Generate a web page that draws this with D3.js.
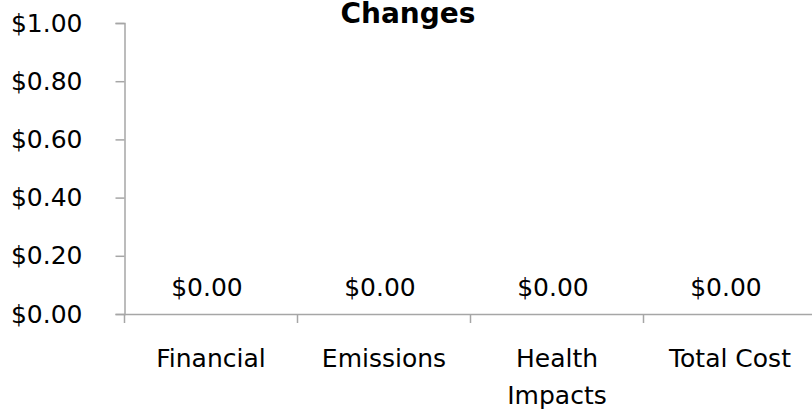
<!DOCTYPE html>
<html>
<head>
<meta charset="utf-8">
<script src="https://cdn.jsdelivr.net/npm/d3@7"></script>
<style>
  body { margin: 0; background: #fff; }
  svg { display: block; font-family: "DejaVu Sans", sans-serif; }
</style>
</head>
<body>
<div id="chart"></div>
<script>
// Chart data
const categories = ["Financial", "Emissions", "Health Impacts", "Total Cost"];
const values = [0, 0, 0, 0];
const yTicks = [0, 0.2, 0.4, 0.6, 0.8, 1.0];
const title = "Changes";

const width = 812, height = 413;
const margin = { top: 23, right: -4.5, bottom: 99, left: 124.5 };
const fontSize = 25;

const svg = d3.select("#chart").append("svg")
    .attr("width", width)
    .attr("height", height);

const x = d3.scaleBand()
    .domain(categories)
    .range([margin.left, width - margin.right])
    .paddingInner(0)
    .paddingOuter(0);

const y = d3.scaleLinear()
    .domain([0, 1])
    .range([height - margin.bottom, margin.top]);

const fmt = d => "$" + d.toFixed(2);
const axisColor = "#a6a6a6";

// Y axis
const yAxis = svg.append("g")
    .attr("transform", `translate(${margin.left},0)`)
    .call(d3.axisLeft(y).tickValues(yTicks).tickSize(9).tickPadding(33).tickFormat(fmt));
yAxis.select(".domain").attr("stroke", axisColor).attr("stroke-width", 1.5);
yAxis.selectAll(".tick line").attr("stroke", axisColor).attr("stroke-width", 1.5);
yAxis.selectAll(".tick text")
    .attr("font-size", fontSize)
    .attr("font-family", "DejaVu Sans, sans-serif")
    .attr("fill", "#000");

// X axis (ticks at category boundaries)
const xAxis = svg.append("g")
    .attr("transform", `translate(0,${y(0)})`)
    .call(d3.axisBottom(x).tickSize(0).tickFormat(""));
xAxis.select(".domain").attr("stroke", axisColor).attr("stroke-width", 1.5);

xAxis.selectAll("line.boundary")
    .data(categories)
    .enter().append("line")
    .attr("class", "boundary")
    .attr("x1", d => x(d))
    .attr("x2", d => x(d))
    .attr("y1", 0)
    .attr("y2", 9)
    .attr("stroke", axisColor)
    .attr("stroke-width", 1.5);

// Category labels (wrapped)
const catLabel = svg.append("g").selectAll("text")
    .data(categories)
    .enter().append("text")
    .attr("text-anchor", "middle")
    .attr("font-size", fontSize)
    .attr("fill", "#000")
    .attr("x", d => x(d) + x.bandwidth() / 2)
    .attr("y", y(0) + 53);

catLabel.each(function(d) {
    const words = d === "Health Impacts" ? ["Health", "Impacts"] : [d];
    const t = d3.select(this);
    words.forEach((w, i) => {
        t.append("tspan")
            .attr("x", x(d) + x.bandwidth() / 2)
            .attr("dy", i === 0 ? 0 : 37)
            .text(w);
    });
});

// Data labels
svg.append("g").selectAll("text")
    .data(values)
    .enter().append("text")
    .attr("text-anchor", "middle")
    .attr("font-size", fontSize)
    .attr("fill", "#000")
    .attr("x", (d, i) => x(categories[i]) + x.bandwidth() / 2 - 4)
    .attr("y", (d) => y(d) - 18)
    .text(fmt);

// Title
svg.append("text")
    .attr("x", 408)
    .attr("y", 23)
    .attr("text-anchor", "middle")
    .attr("font-size", 28)
    .attr("font-weight", "bold")
    .attr("fill", "#000")
    .text(title);
</script>
</body>
</html>
